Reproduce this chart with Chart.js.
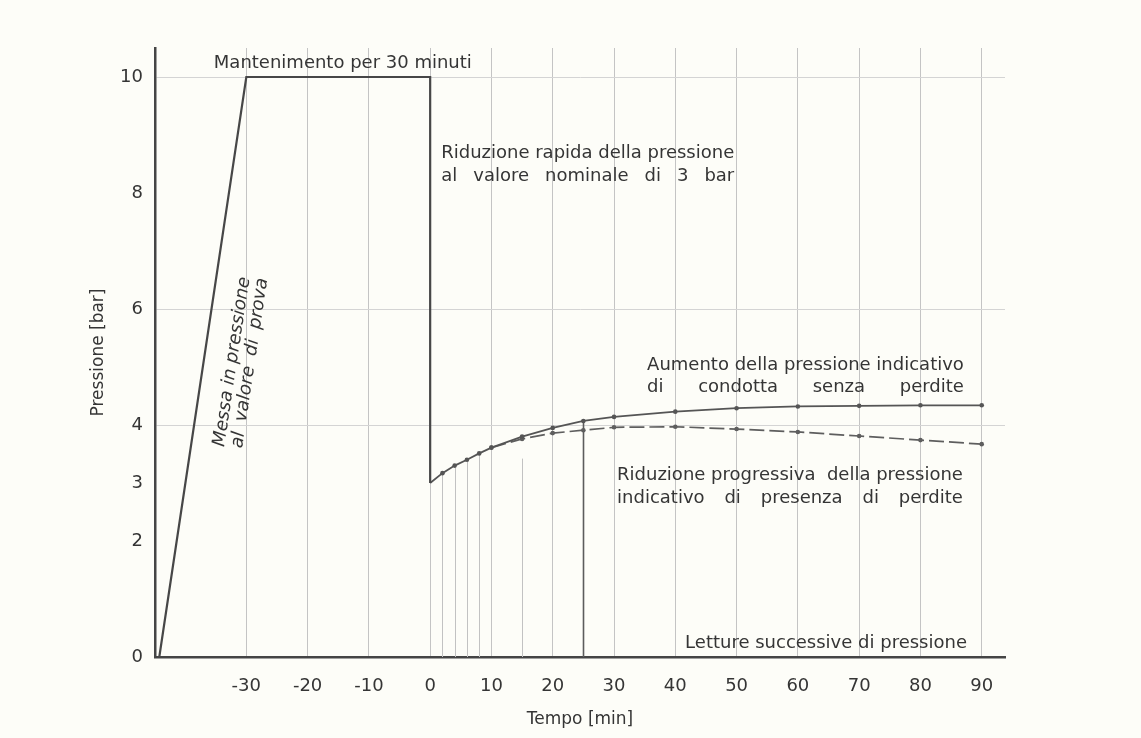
<!DOCTYPE html>
<html>
<head>
<meta charset="utf-8">
<title>Prova di pressione</title>
<script src="https://cdn.jsdelivr.net/npm/chart.js@4.4.1/dist/chart.umd.min.js"></script>
<style>
  html, body { margin: 0; padding: 0; background: #fdfdf8; }
</style>
</head>
<body>
<canvas id="pressure-chart" width="1141" height="738"></canvas>
<script>
// Messa in pressione, mantenimento e riduzione rapida
const rampTime = [-44.2, -30, 0, 0];
const rampPressure = [0, 10, 10, 3];

// Letture successive - condotta senza perdite
const readTime = [0, 2, 4, 6, 8, 10, 15, 20, 25, 30, 40, 50, 60, 70, 80, 90];
const tightPressure = [3.0, 3.17, 3.3, 3.4, 3.51, 3.61, 3.8, 3.95, 4.07, 4.14, 4.23, 4.29, 4.32, 4.33, 4.34, 4.34];

// Letture successive - presenza di perdite
const leakTime = [10, 15, 20, 25, 30, 40, 50, 60, 70, 80, 90];
const leakPressure = [3.61, 3.76, 3.86, 3.91, 3.96, 3.97, 3.93, 3.88, 3.81, 3.74, 3.67];

// Etichette degli assi
const xTicks = [-30, -20, -10, 0, 10, 20, 30, 40, 50, 60, 70, 80, 90];
const yTicks = [0, 2, 3, 4, 6, 8, 10];
const yGridValues = [4, 6, 10];

const FONT = "DejaVu Sans";
const INK = "#353535";

const toPoints = (xs, ys) => xs.map((x, i) => ({ x: x, y: ys[i] }));

// Testi sul grafico (posizione in unita' del grafico: minuti / bar)
const notes = [
  { lines: ["Mantenimento per 30 minuti"], x: -35.3, y: 10.15 },
  { lines: ["Riduzione rapida della pressione", "al valore nominale di 3 bar"], x: 1.8, y: 8.6 },
  { lines: ["Aumento della pressione indicativo", "di condotta senza perdite"], x: 35.4, y: 4.95 },
  { lines: ["Riduzione progressiva  della pressione", "indicativo di presenza di perdite"], x: 30.5, y: 3.05 },
  { lines: ["Letture successive di pressione"], x: 41.6, y: 0.15 },
];
const rampNote = [
  { text: "Messa in pressione", x: -32.3, y: 5.09 },
  { text: "al valore di prova", x: -29.4, y: 5.07 },
];

// scrive una riga allargando gli spazi fino a una certa larghezza
function justified(c, text, x, y, width) {
  const words = text.split(" ");
  const total = words.reduce((s, w) => s + c.measureText(w).width, 0);
  const gap = words.length > 1 ? (width - total) / (words.length - 1) : 0;
  let cx = x;
  words.forEach((w) => {
    c.fillText(w, cx, y);
    cx += c.measureText(w).width + gap;
  });
}

const background = {
  id: "background",
  beforeDraw(chart) {
    const c = chart.ctx;
    c.save();
    c.fillStyle = "#fdfdf8";
    c.fillRect(0, 0, chart.width, chart.height);
    c.restore();
  },
};

// linee verticali delle letture intermedie (fino alla curva)
const dropLines = {
  id: "dropLines",
  beforeDatasetsDraw(chart) {
    const meta = chart.getDatasetMeta(1);
    const bottom = chart.chartArea.bottom;
    const c = chart.ctx;
    c.save();
    meta.data.forEach((pt, i) => {
      const t = readTime[i];
      if (t % 10 === 0) return;
      const px = Math.round(pt.x) + 0.5;
      c.strokeStyle = t === 25 ? "#5c5c5c" : "#c2c2c2";
      c.lineWidth = t === 25 ? 1.6 : 1;
      c.beginPath();
      c.moveTo(px, t === 15 ? pt.y + 22 : pt.y);
      c.lineTo(px, bottom);
      c.stroke();
    });
    c.restore();
  },
};

const noteText = {
  id: "noteText",
  afterDatasetsDraw(chart) {
    const c = chart.ctx;
    const xs = chart.scales.x;
    const ys = chart.scales.y;
    c.save();
    c.fillStyle = INK;
    c.textBaseline = "alphabetic";
    c.textAlign = "left";
    c.font = "18px '" + FONT + "'";
    notes.forEach((n) => {
      const px = xs.getPixelForValue(n.x);
      const py = ys.getPixelForValue(n.y);
      const w = c.measureText(n.lines[0]).width;
      c.fillText(n.lines[0], px, py);
      if (n.lines[1]) justified(c, n.lines[1], px, py + 22.5, w);
    });

    // testo inclinato lungo la rampa
    const ramp = chart.getDatasetMeta(0).data;
    const angle = Math.atan2(ramp[1].y - ramp[0].y, ramp[1].x - ramp[0].x);
    c.font = "italic 18px '" + FONT + "'";
    c.textBaseline = "middle";
    const w = c.measureText(rampNote[0].text).width;
    rampNote.forEach((r, i) => {
      c.save();
      c.translate(xs.getPixelForValue(r.x), ys.getPixelForValue(r.y));
      c.rotate(angle);
      if (i === 0) {
        c.textAlign = "center";
        c.fillText(r.text, 0, 0);
      } else {
        justified(c, r.text, -w / 2, 0, w);
      }
      c.restore();
    });
    c.restore();
  },
};

const chartPressure = new Chart(document.getElementById("pressure-chart").getContext("2d"), {
  type: "line",
  data: {
    datasets: [
      {
        label: "Messa in pressione",
        data: toPoints(rampTime, rampPressure),
        borderColor: "#474747",
        borderWidth: 2.2,
        pointRadius: 0,
        tension: 0,
      },
      {
        label: "Condotta senza perdite",
        data: toPoints(readTime, tightPressure),
        borderColor: "#555",
        borderWidth: 1.8,
        pointRadius: (ctx) => (ctx.dataIndex === 0 ? 0 : 2.3),
        pointBackgroundColor: "#555",
        pointBorderWidth: 0,
        tension: 0,
      },
      {
        label: "Presenza di perdite",
        data: toPoints(leakTime, leakPressure),
        borderColor: "#5e5e5e",
        borderWidth: 1.7,
        borderDash: [15, 5],
        pointRadius: 2.3,
        pointBackgroundColor: "#5e5e5e",
        pointBorderWidth: 0,
        tension: 0,
      },
    ],
  },
  options: {
    responsive: false,
    animation: false,
    devicePixelRatio: 1,
    layout: { padding: { top: 48, right: 136, bottom: 0, left: 0 } },
    plugins: {
      legend: { display: false },
      tooltip: { enabled: false },
    },
    scales: {
      x: {
        type: "linear",
        min: -44.9,
        max: 93.8,
        afterBuildTicks: (s) => { s.ticks = xTicks.map((v) => ({ value: v })); },
        afterFit: (s) => { s.height = 81; },
        grid: { color: "#c4c4c4", lineWidth: 1, drawTicks: false },
        border: { color: "#454545", width: 2.5 },
        ticks: {
          color: INK,
          font: { family: FONT, size: 18 },
          padding: 19,
          maxRotation: 0,
          autoSkip: false,
        },
        title: {
          display: true,
          text: "Tempo [min]",
          color: INK,
          font: { family: FONT, size: 17 },
          padding: { top: 0, bottom: 8 },
        },
      },
      y: {
        min: 0,
        max: 10.5,
        afterBuildTicks: (s) => { s.ticks = yTicks.map((v) => ({ value: v })); },
        afterFit: (s) => { s.width = 155; },
        grid: {
          color: (ctx) => (ctx.tick && yGridValues.includes(ctx.tick.value) ? "#d4d4d4" : "rgba(0,0,0,0)"),
          lineWidth: 1,
          drawTicks: false,
        },
        border: { color: "#454545", width: 2.5 },
        ticks: {
          color: INK,
          font: { family: FONT, size: 18 },
          padding: 12,
        },
        title: {
          display: true,
          text: "Pressione [bar]",
          color: INK,
          font: { family: FONT, size: 17 },
          padding: { top: 88, bottom: 0 },
        },
      },
    },
  },
  plugins: [background, dropLines, noteText],
});
</script>
</body>
</html>
